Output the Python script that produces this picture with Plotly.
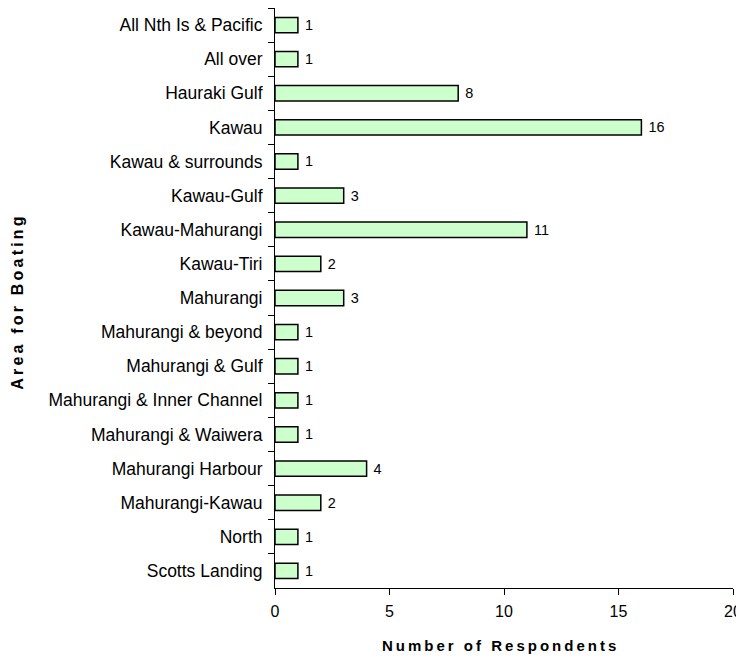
import plotly.graph_objects as go

categories = ["All Nth Is & Pacific", "All over", "Hauraki Gulf", "Kawau", "Kawau & surrounds",
              "Kawau-Gulf", "Kawau-Mahurangi", "Kawau-Tiri", "Mahurangi", "Mahurangi & beyond",
              "Mahurangi & Gulf", "Mahurangi & Inner Channel", "Mahurangi & Waiwera",
              "Mahurangi Harbour", "Mahurangi-Kawau", "North", "Scotts Landing"]
values = [1, 1, 8, 16, 1, 3, 11, 2, 3, 1, 1, 1, 1, 4, 2, 1, 1]
x_ticks = [0, 5, 10, 15, 20]
x_title = "Number of Respondents"
y_title = "Area for Boating"


def spaced(s):
    return "\u2009".join(s)


W, H = 736, 647
L, R, T, B = 267, 11, 0, 67
pw, ph = W - L - R, H - T - B
FONT = "Liberation Sans, Arial, sans-serif"

fig = go.Figure(go.Bar(
    y=categories, x=values, orientation="h",
    marker=dict(color="#CCFFCC", line=dict(color="black", width=1.5)),
    text=["\u00a0" + str(v) for v in values], textposition="outside",
    textfont=dict(family=FONT, size=16, color="black"),
    cliponaxis=False, width=0.45,
))

fig.update_layout(
    width=W, height=H,
    margin=dict(l=L, r=R, t=T, b=B, autoexpand=False),
    plot_bgcolor="white", paper_bgcolor="white",
    font=dict(family=FONT, size=16, color="black"),
    showlegend=False,
    xaxis=dict(range=[0, 20], tickvals=x_ticks, showgrid=False, zeroline=False,
               showline=True, linecolor="black", linewidth=1, automargin=False,
               ticks="outside", ticklen=6, tickcolor="black", ticklabelstandoff=3,
               tickfont=dict(size=16)),
    yaxis=dict(categoryorder="array", categoryarray=categories, autorange="reversed",
               showgrid=False, zeroline=False, showline=True, linecolor="black", linewidth=1,
               ticks="outside", ticklen=6, tickcolor="black", tickson="boundaries",
               ticklabelstandoff=8, automargin=False, tickfont=dict(size=17.5)),
    annotations=[
        dict(text="<b>" + spaced(x_title) + "</b>", xref="paper", yref="paper",
             x=0.49, y=-(637 - T - ph) / ph, xanchor="center", yanchor="middle",
             showarrow=False, font=dict(size=15)),
        dict(text="<b>" + spaced(y_title) + "</b>", xref="paper", yref="paper",
             x=(10 - L) / pw, y=0.49, xanchor="center", yanchor="middle", textangle=-90,
             showarrow=False, font=dict(size=16)),
    ],
)

fig.write_html("out.html")
